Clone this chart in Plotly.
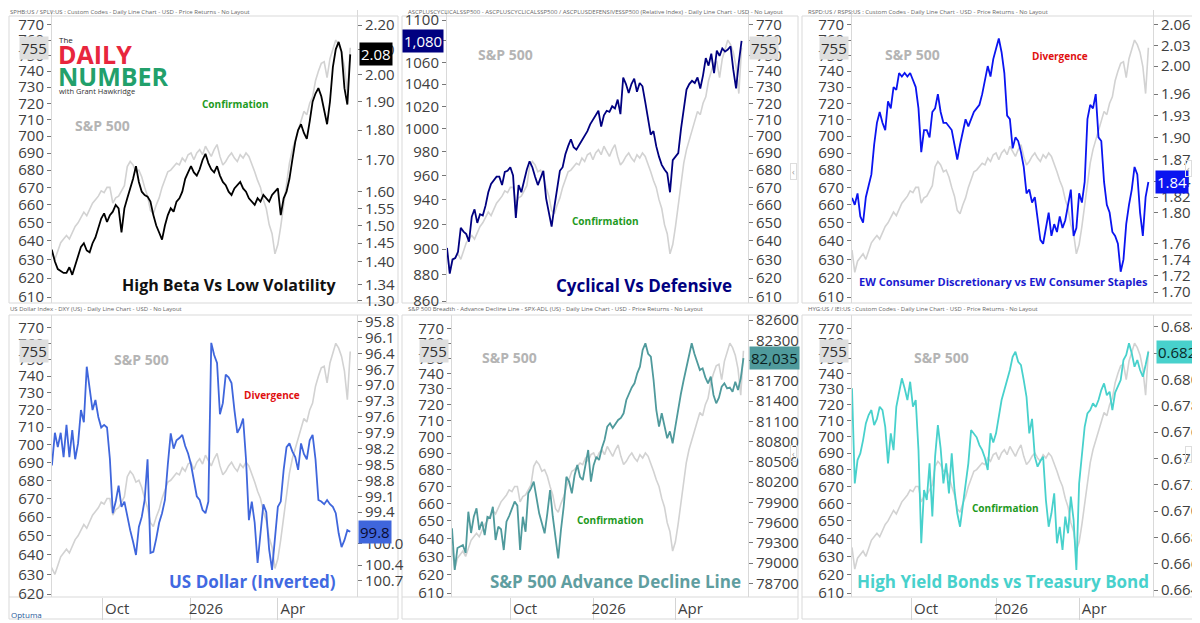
import math
import pandas as pd
import plotly.graph_objects as go

W, H = 1200, 623
OFF = 8  # the page body adds an 8 px margin, so positions are pulled back by it

# S&P 500 (grey line, drawn in every panel), one value every 3 days from 2025-07-29
spx = [635, 623, 629, 631, 633, 630, 635, 639, 641, 643,
       641, 645, 648, 650, 653, 656, 654, 658, 661, 663,
       665, 668, 667, 670, 670, 661, 664, 665, 668, 671,
       682, 685, 683, 679, 680, 676, 670, 665, 657, 655,
       660, 664, 670, 675, 679, 680, 682, 684, 683, 687,
       685, 689, 690, 686, 690, 692, 689, 694, 691, 688,
       692, 695, 688, 683, 685, 688, 690, 687, 685, 689,
       687, 690, 688, 684, 679, 674, 670, 663, 658, 649,
       644, 633, 638, 648, 660, 672, 684, 692, 698, 704,
       710, 715, 713, 720, 724, 734, 740, 745, 746, 736,
       748, 754, 760, 757, 752, 743, 726, 755]

# SPHB / SPLV
hi_beta = [1.43, 1.42, 1.44, 1.43, 1.43, 1.40, 1.38, 1.375, 1.37, 1.37,
           1.385, 1.365, 1.39, 1.41, 1.44, 1.45, 1.43, 1.425, 1.45, 1.466,
           1.49, 1.52, 1.535, 1.51, 1.53, 1.54, 1.56, 1.55, 1.48, 1.55,
           1.58, 1.61, 1.64, 1.68, 1.63, 1.60, 1.59, 1.585, 1.57, 1.53,
           1.50, 1.48, 1.46, 1.50, 1.53, 1.55, 1.54, 1.57, 1.58, 1.60,
           1.64, 1.66, 1.68, 1.66, 1.65, 1.67, 1.70, 1.72, 1.69, 1.67,
           1.66, 1.68, 1.65, 1.63, 1.62, 1.60, 1.59, 1.61, 1.62, 1.63,
           1.61, 1.60, 1.58, 1.57, 1.56, 1.58, 1.57, 1.59, 1.58, 1.57,
           1.59, 1.60, 1.61, 1.53, 1.58, 1.60, 1.64, 1.70, 1.76, 1.80,
           1.82, 1.79, 1.77, 1.83, 1.90, 1.93, 1.95, 1.92, 1.87, 1.82,
           1.90, 2.03, 2.10, 2.13, 2.09, 1.95, 1.89, 2.08]

# Cyclicals / Defensives relative index
cyc_def = [901, 881, 892, 893, 898, 917, 914, 912, 906, 926,
           932, 921, 928, 927, 935, 946, 953, 956, 959, 959,
           952, 963, 964, 967, 960, 925, 952, 946, 957, 965,
           972, 967, 959, 952, 958, 964, 941, 930, 918, 934,
           950, 964, 967, 978, 985, 991, 984, 982, 986, 990,
           995, 998, 1004, 1008, 1013, 1016, 1002, 1012, 1016, 1015,
           1020, 1018, 1026, 1013, 1046, 1040, 1032, 1040, 1045, 1033,
           1041, 1038, 1024, 1010, 995, 998, 985, 976, 969, 965,
           962, 946, 973, 976, 979, 1000, 1020, 1035, 1040, 1043,
           1041, 1046, 1036, 1048, 1064, 1057, 1068, 1050, 1071, 1066,
           1073, 1070, 1072, 1075, 1053, 1036, 1060, 1080]

# RSPD / RSPS
ew_disc = [1.819, 1.81, 1.825, 1.795, 1.787, 1.82, 1.835, 1.85, 1.89, 1.92,
           1.935, 1.92, 1.91, 1.95, 1.94, 1.97, 1.966, 1.99, 1.985, 1.99,
           1.985, 1.99, 1.98, 1.97, 1.94, 1.88, 1.91, 1.91, 1.90, 1.935,
           1.94, 1.96, 1.935, 1.92, 1.92, 1.915, 1.91, 1.89, 1.87, 1.89,
           1.91, 1.925, 1.915, 1.925, 1.935, 1.94, 1.945, 1.96, 1.98, 2.0,
           1.985, 2.01, 2.025, 2.04, 2.02, 1.99, 1.93, 1.925, 1.885, 1.90,
           1.895, 1.88, 1.86, 1.825, 1.83, 1.813, 1.82, 1.79, 1.765, 1.76,
           1.78, 1.80, 1.77, 1.785, 1.775, 1.795, 1.78, 1.79, 1.81, 1.83,
           1.77, 1.78, 1.825, 1.813, 1.84, 1.925, 1.945, 1.94, 1.96, 1.90,
           1.895, 1.84, 1.81, 1.80, 1.775, 1.77, 1.76, 1.725, 1.74, 1.785,
           1.81, 1.83, 1.86, 1.85, 1.80, 1.77, 1.82, 1.84]

# US Dollar Index (plotted on an inverted axis)
dxy = [98.6, 98.5, 98.3, 98.5, 98.5, 97.9, 98.17, 97.9, 98.36, 97.75,
       98.36, 97.85, 98.4, 98.1, 97.47, 97.7, 96.65, 97.1, 97.47, 97.28,
       97.6, 97.8, 97.75, 97.8, 98.4, 99.42, 99.2, 98.9, 99.3, 99.2,
       99.5, 99.74, 99.96, 100.21, 99.68, 99.49, 99.17, 98.4, 100.17, 100.15,
       99.9, 99.6, 99.42, 99.17, 98.5, 97.91, 98.2, 98.04, 98.0, 97.94,
       98.15, 98.29, 98.5, 98.8, 99.1, 99.17, 99.36, 99.42, 99.2, 96.2,
       96.43, 96.58, 97.55, 97.34, 96.8, 96.85, 96.96, 97.47, 97.9, 97.8,
       97.63, 98.4, 99.55, 99.2, 99.6, 100.36, 99.8, 99.25, 99.4, 100.11,
       100.49, 99.9, 99.3, 99.2, 98.6, 98.17, 98.1, 98.25, 98.36, 98.6,
       98.1, 98.3, 98.4, 98.04, 97.94, 98.4, 99.17, 99.2, 99.25, 99.17,
       99.25, 99.3, 99.42, 99.8, 100.06, 99.93, 99.74, 99.77]

# S&P 500 advance decline line
spx_adl = [79514, 78897, 79223, 79242, 79267, 79148, 79760, 79445, 79686, 79811,
           79490, 79613, 79415, 79686, 79667, 79834, 79341, 79538, 79500, 79193,
           79613, 79700, 79811, 79910, 79850, 79193, 79686, 79464, 80032, 80106,
           80205, 79983, 79737, 79588, 79440, 79737, 80082, 79686, 79390, 79069,
           79490, 79834, 80278, 80205, 80032, 80300, 80452, 80278, 80230, 80477,
           80674, 80205, 80450, 80575, 80526, 80700, 80822, 81020, 81070, 81000,
           81070, 81119, 81150, 81218, 81415, 81514, 81600, 81662, 81810, 81908,
           82156, 82255, 82100, 82057, 81711, 81267, 81020, 81218, 81020, 80848,
           80950, 80774, 81020, 81292, 81500, 81700, 81900, 82082, 82255, 82100,
           81983, 81859, 81884, 81750, 81662, 81760, 81489, 81366, 81450, 81612,
           81662, 81588, 81600, 81538, 81686, 81563, 81736, 82035]

# HYG / IEI
hyg_iei = [0.67932, 0.67210, 0.67387, 0.67438, 0.67539, 0.67666, 0.67729, 0.67767, 0.67653, 0.67700,
           0.67792, 0.67767, 0.67640, 0.67362, 0.67590, 0.67463, 0.67792, 0.67900, 0.68008, 0.67932,
           0.67843, 0.67982, 0.67792, 0.67843, 0.67463, 0.66755, 0.67160, 0.67084, 0.67362, 0.66959,
           0.67413, 0.67653, 0.67476, 0.67210, 0.67362, 0.67134, 0.67438, 0.67160, 0.66983, 0.66881,
           0.67050, 0.67236, 0.67362, 0.67615, 0.67590, 0.67560, 0.67501, 0.67463, 0.67403, 0.67312,
           0.67590, 0.67520, 0.67590, 0.67716, 0.67843, 0.67919, 0.67990, 0.68071, 0.68172, 0.68210,
           0.68134, 0.68109, 0.67995, 0.67868, 0.67590, 0.67700, 0.67413, 0.67337, 0.67380, 0.67413,
           0.67084, 0.66881, 0.66983, 0.67134, 0.66755, 0.66880, 0.66704, 0.66957, 0.66831, 0.67109,
           0.66932, 0.66552, 0.67210, 0.67413, 0.67640, 0.67742, 0.67767, 0.67818, 0.67790, 0.67843,
           0.67919, 0.67970, 0.67880, 0.67906, 0.67767, 0.67900, 0.67944, 0.67995, 0.68147, 0.68185,
           0.68274, 0.68198, 0.68096, 0.68147, 0.68071, 0.68020, 0.68109, 0.68210]

dates = pd.date_range("2025-07-29", periods=len(spx), freq="3D")

x_ticks = ["2025-10-01", "2026-01-01", "2026-04-01"]
x_labels = ["Oct", "2026", "Apr"]

spx_ticks = list(range(610, 790, 10))
hb_ticks = [1.30, 1.34, 1.40, 1.45, 1.50, 1.55, 1.60, 1.70, 1.80, 1.90, 2.00, 2.10, 2.20]
cd_ticks = list(range(860, 1120, 20))
ew_ticks = [1.70, 1.72, 1.74, 1.76, 1.80, 1.82, 1.84, 1.87, 1.90, 1.93, 1.96, 2.00, 2.03, 2.06]
dxy_ticks = [95.8, 96.1, 96.4, 96.7, 97.0, 97.3, 97.6, 97.9, 98.2, 98.5, 98.8, 99.1, 99.4,
             100.0, 100.4, 100.7, 101.1]
adl_ticks = list(range(78700, 82900, 300))
hy_ticks = [0.664, 0.666, 0.668, 0.670, 0.672, 0.674, 0.676, 0.678, 0.680, 0.682, 0.684]

GRAY = "#d2d2d2"
FRAME = "#d9d9d9"
TICKFONT = dict(family="Open Sans", size=15, color="#404040")


def fx(x):
    return (x - OFF) / W


def fy(y):
    return 1 - (y - OFF) / H


def lg(v):
    return math.log10(v)


panels = [
    dict(ser=hi_beta, color="#000000", box=(52, 357, 10, 303), xr=["2025-08-10", "2026-06-22"],
         spx_side="left", spx_rng=(606.9, 779.8), rng=(1.2935, 2.264), log=True,
         ticks=hb_ticks, fmt=".2f", badge="{:.2f}", bx=375.5, bbg="#000000", bfc="#ffffff",
         sx=34, bottom=False),
    dict(ser=cyc_def, color="#000080", box=(447, 748, 10, 303), xr=["2025-07-29", "2026-06-22"],
         spx_side="right", spx_rng=(606.9, 779.8), rng=(858.6, 1109.7), log=True,
         ticks=cd_ticks, fmt="d", badge="{:,.0f}", bx=423, bbg="#000080", bfc="#ffffff",
         sx=764, bottom=False),
    dict(ser=ew_disc, color="#0a14f0", box=(852, 1153, 10, 303), xr=["2025-07-29", "2026-06-20"],
         spx_side="left", spx_rng=(606.9, 779.8), rng=(1.6866, 2.0823), log=True,
         ticks=ew_ticks, fmt=".2f", badge="{:.2f}", bx=1171.5, bbg="#0a14f0", bfc="#ffffff",
         sx=834, bottom=False),
    dict(ser=dxy, color="#3f66dc", box=(52, 357, 315, 597), xr=["2025-08-10", "2026-06-22"],
         spx_side="left", spx_rng=(618.5, 777.7), rng=(101.004, 95.673), log=False,
         ticks=dxy_ticks, fmt=".1f", badge="{:.1f}", bx=374.5, bbg="#3f66dc", bfc="#0a0a30",
         sx=34, bottom=True),
    dict(ser=spx_adl, color="#4f9a9c", box=(452, 748, 315, 597), xr=["2025-07-29", "2026-06-20"],
         spx_side="left", spx_rng=(607.9, 779.1), rng=(78497, 82674), log=False,
         ticks=adl_ticks, fmt="d", badge="{:,.0f}", bx=774.5, bbg="#4f9a9c", bfc="#0a2020",
         sx=434, bottom=True),
    dict(ser=hyg_iei, color="#48d1cc", box=(852, 1153, 315, 597), xr=["2025-07-29", "2026-06-20"],
         spx_side="left", spx_rng=(607.9, 779.1), rng=(0.66347, 0.68489), log=False,
         ticks=hy_ticks, fmt=".3f", badge="{:.3f}", bx=1177, bbg="#48d1cc", bfc="#0a2a2a",
         sx=834, bottom=True),
]

fig = go.Figure()
layout = {}
annotations = []

for k, p in enumerate(panels, start=1):
    a, b = 2 * k - 1, 2 * k
    xname = "xaxis" if k == 1 else f"xaxis{k}"
    xref = "x" if k == 1 else f"x{k}"
    yname_a = "yaxis" if a == 1 else f"yaxis{a}"
    yref_a = "y" if a == 1 else f"y{a}"
    yname_b = f"yaxis{b}"
    yref_b = f"y{b}"
    x0, x1, y0, y1 = p["box"]

    fig.add_trace(go.Scatter(x=dates, y=spx, mode="lines", xaxis=xref, yaxis=yref_a,
                             line=dict(color=GRAY, width=1.6), hoverinfo="skip"))
    fig.add_trace(go.Scatter(x=dates[:len(p["ser"])], y=p["ser"], mode="lines",
                             xaxis=xref, yaxis=yref_b,
                             line=dict(color=p["color"], width=1.8), hoverinfo="skip"))

    xa = dict(domain=[fx(x0), fx(x1)], anchor=yref_a, type="date", range=p["xr"],
              showgrid=False, zeroline=False, showline=False, automargin=False)
    if p["bottom"]:
        xa.update(tickvals=x_ticks, ticktext=x_labels, ticks="outside", ticklen=22,
                  tickcolor="#d4d4d4", tickwidth=1, ticklabelstandoff=-24,
                  ticklabelshift=15, tickfont=TICKFONT)
    else:
        xa.update(showticklabels=False, ticks="")
    layout[xname] = xa

    common = dict(showgrid=False, zeroline=False, showline=True, linecolor=FRAME,
                  ticks="outside", ticklen=4, tickcolor="#777777", tickfont=TICKFONT,
                  automargin=False)
    lo, hi = p["spx_rng"]
    layout[yname_a] = dict(domain=[fy(y1), fy(y0)], anchor=xref, side=p["spx_side"],
                           type="log", range=[lg(lo), lg(hi)], tickvals=spx_ticks,
                           tickformat="d", **common)
    r0, r1 = p["rng"]
    yb = dict(overlaying=yref_a, anchor=xref,
              side="right" if p["spx_side"] == "left" else "left",
              tickvals=p["ticks"], tickformat=p["fmt"], **common)
    if p["log"]:
        yb.update(type="log", range=[lg(r0), lg(r1)])
    else:
        yb.update(type="linear", range=[r0, r1])
    layout[yname_b] = yb

    # last-value badges
    last = p["ser"][-1]
    annotations.append(dict(text=p["badge"].format(last), xref="paper", x=fx(p["bx"]),
                            yref=yref_b, y=lg(last) if p["log"] else last,
                            xanchor="center", yanchor="middle", showarrow=False,
                            bgcolor=p["bbg"], borderpad=1,
                            font=dict(family="Open Sans", size=15, color=p["bfc"])))
    annotations.append(dict(text=f"{spx[-1]:.0f}", xref="paper", x=fx(p["sx"]),
                            yref=yref_a, y=lg(spx[-1]),
                            xanchor="center", yanchor="middle", showarrow=False,
                            bgcolor="#dedede", borderpad=1,
                            font=dict(family="Open Sans", size=15, color="#303030")))


def add_text(text, x, y, size, color, xanchor="center", bold=True):
    annotations.append(dict(text=f"<b>{text}</b>" if bold else text,
                            x=fx(x), y=fy(y), xref="paper", yref="paper",
                            xanchor=xanchor, yanchor="middle", showarrow=False,
                            font=dict(family="Open Sans", size=size, color=color)))


headers = [
    ("SPHB:US / SPLV:US : Custom Codes - Daily Line Chart - USD - Price Returns - No Layout", 8, 12),
    ("ASCPLUSCYCLICALSSP500 - ASCPLUSCYCLICALSSP500 / ASCPLUSDEFENSIVESSP500 (Relative Index) - Daily Line Chart - USD - No Layout", 406, 12),
    ("RSPD:US / RSPS:US : Custom Codes - Daily Line Chart - USD - Price Returns - No Layout", 806, 12),
    ("US Dollar Index - DXY (US) - Daily Line Chart - USD - No Layout", 8, 309),
    ("S&amp;P 500 Breadth - Advance Decline Line - SPX-ADL (US) - Daily Line Chart - USD - Price Returns - No Layout", 406, 309),
    ("HYG:US / IEI:US : Custom Codes - Daily Line Chart - USD - Price Returns - No Layout", 806, 309),
]
for text, x, y in headers:
    add_text(text, x, y, 6, "#666666", xanchor="left", bold=False)

for x, y in [(102, 125), (505, 54), (912, 55), (141, 359), (509, 357), (941, 357)]:
    add_text("S&amp;P 500", x, y, 14, "#b4b4b4")

for x, y in [(235, 104), (605, 221), (611, 520), (1005, 508)]:
    add_text("Confirmation", x, y, 10, "#1e9a1e")
for x, y in [(1060, 56), (272, 395)]:
    add_text("Divergence", x, y, 10, "#e01010")

add_text("High Beta Vs Low Volatility", 339, 285, 16, "#111111", xanchor="right")
add_text("Cyclical Vs Defensive", 734, 285, 17, "#000080", xanchor="right")
add_text("EW Consumer Discretionary vs EW Consumer Staples", 1150, 281, 11, "#1a1ad0", xanchor="right")
add_text("US Dollar (Inverted)", 338, 581, 17, "#4169e1", xanchor="right")
add_text("S&amp;P 500 Advance Decline Line", 743, 581, 17, "#5f9ea0", xanchor="right")
add_text("High Yield Bonds vs Treasury Bond", 1151, 581, 17, "#48d1cc", xanchor="right")

# logo
add_text("The", 57, 40, 8, "#222222", xanchor="left", bold=False)
add_text("DAILY", 56, 54, 25, "#e8263d", xanchor="left")
add_text("NUMBER", 56, 76, 25, "#22a06b", xanchor="left")
add_text("with Grant Hawkridge", 57, 91, 7.5, "#333333", xanchor="left", bold=False)

add_text("Optuma", 9, 614, 8, "#2a5a9a", xanchor="left", bold=False)

for x, y in [(793, 163), (1192, 160), (793, 462), (1192, 463)]:
    annotations.append(dict(text="‹", x=fx(x), y=fy(y), xref="paper", yref="paper",
                            showarrow=False, bordercolor="#dddddd", borderpad=1,
                            font=dict(family="Open Sans", size=9, color="#999999")))

shapes = []
for x0, x1 in [(OFF + 1, 398), (402, 798), (802, 1197)]:
    for y0, y1 in [(16, 303), (315, 619)]:
        shapes.append(dict(type="rect", xref="paper", yref="paper",
                           x0=fx(x0), x1=fx(x1), y0=fy(y1), y1=fy(y0),
                           line=dict(color=FRAME, width=1), layer="below"))
    shapes.append(dict(type="line", xref="paper", yref="paper",
                       x0=fx(x0), x1=fx(x1), y0=fy(597), y1=fy(597),
                       line=dict(color=FRAME, width=1), layer="below"))

fig.update_layout(**layout)
fig.update_layout(width=W, height=H, autosize=False,
                  margin=dict(l=0, r=0, t=0, b=0, pad=0, autoexpand=False),
                  paper_bgcolor="white", plot_bgcolor="rgba(0,0,0,0)",
                  showlegend=False, hovermode=False,
                  annotations=annotations, shapes=shapes)

fig.write_html("out.html")
